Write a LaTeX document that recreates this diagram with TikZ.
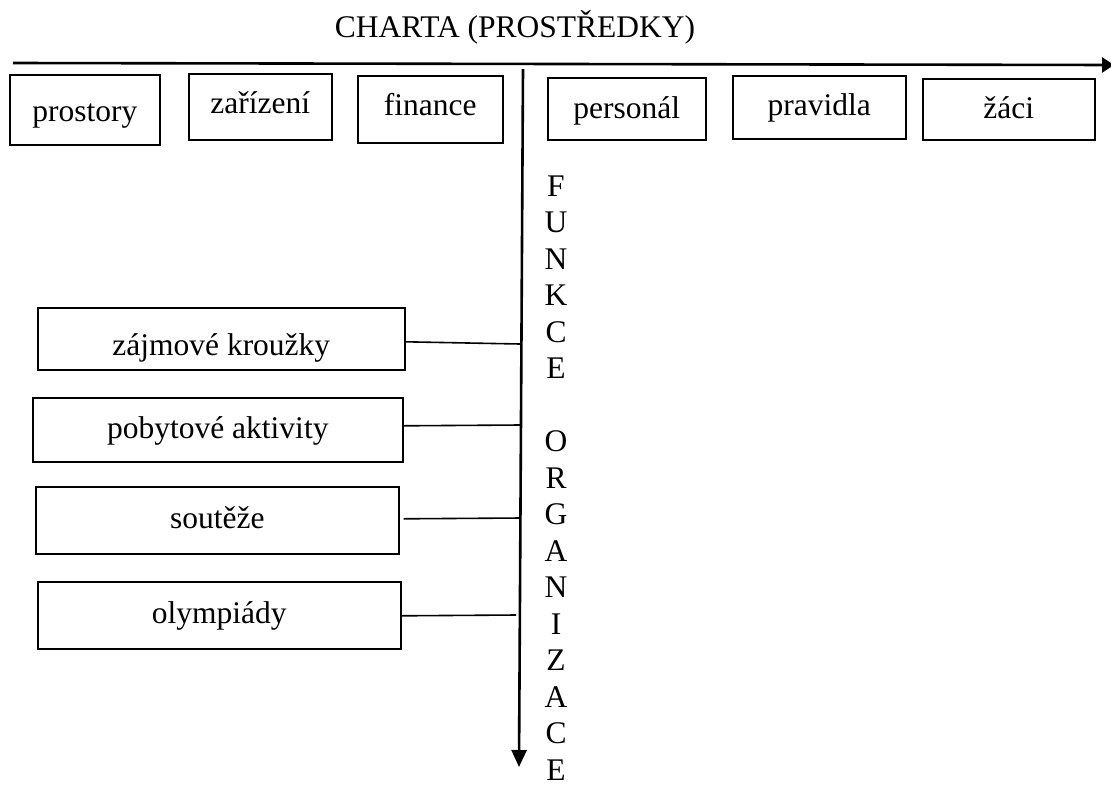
\documentclass[tikz,border=0pt]{standalone}
\usepackage{fontspec}
\setmainfont{Liberation Serif}
\usetikzlibrary{arrows.meta}
\tikzset{
  lbl/.style={font=\fontsize{31.5}{36.6}\selectfont},
  box/.style={draw, line width=1.6pt, lbl, inner xsep=0pt, inner ysep=0pt, anchor=north west},
  axis/.style={line width=2.6pt},
  link/.style={line width=1.6pt}
}
\begin{document}
\begin{tikzpicture}[x=1pt,y=-1pt]
\useasboundingbox (0,0) rectangle (1111,785);
% title
\node[lbl, anchor=base] (title) at (515,37) {CHARTA (PROSTŘEDKY)};
% axes
\coordinate (hs) at (13,63);
\coordinate (he) at (1114,65);
\draw[axis, -{Triangle[length=12pt,width=15pt]}] (hs) -- (he);
\coordinate (vs) at (523,69);
\coordinate (ve) at (519,767);
\draw[axis, -{Triangle[length=17pt,width=15pt]}] (vs) -- (ve);
% top boxes
\node[box, minimum width=150pt, text height=47pt, text depth=23pt] (prostory) at (9,74) {prostory};
\node[box, minimum width=143pt, text height=40pt, text depth=26pt] (zarizeni) at (188,73) {zařízení};
\node[box, minimum width=145pt, text height=40pt, text depth=27pt] (finance) at (357,75) {finance};
\node[box, minimum width=158pt, text height=41pt, text depth=21pt] (personal) at (547,77) {personál};
\node[box, minimum width=173pt, text height=40pt, text depth=23pt] (pravidla) at (732,75) {pravidla};
\node[box, minimum width=172pt, text height=40pt, text depth=21pt] (zaci) at (922,78) {žáci};
% left boxes
\node[box, minimum width=367pt, text height=48pt, text depth=14pt] (krouzky) at (37,307) {zájmové kroužky};
\node[box, minimum width=370pt, text height=41pt, text depth=23pt] (pobyt) at (32,397) {pobytové aktivity};
\node[box, minimum width=363pt, text height=42pt, text depth=25pt] (souteze) at (35,486) {soutěže};
\node[box, minimum width=363pt, text height=42pt, text depth=25pt] (olymp) at (37,581) {olympiády};
% connectors
\coordinate (c1) at (520,344);
\coordinate (c2) at (520,425);
\coordinate (c3) at (521,518);
\coordinate (c4) at (516,615);
\draw[link] ([yshift=-3pt]krouzky.east) -- (c1);
\draw[link] ([yshift=4pt]pobyt.east) -- (c2);
\draw[link] ([xshift=4pt,yshift=1.5pt]souteze.east) -- (c3);
\draw[link] ([yshift=-0.5pt]olymp.east) -- (c4);
% vertical label
\foreach \ch [count=\i from 0] in {F,U,N,K,C,E,{},O,R,G,A,N,I,Z,A,C,E} {
  \node[lbl, anchor=base, inner sep=0pt] (v\i) at (556,196+36.5*\i) {\ch};
}
\end{tikzpicture}
\end{document}
